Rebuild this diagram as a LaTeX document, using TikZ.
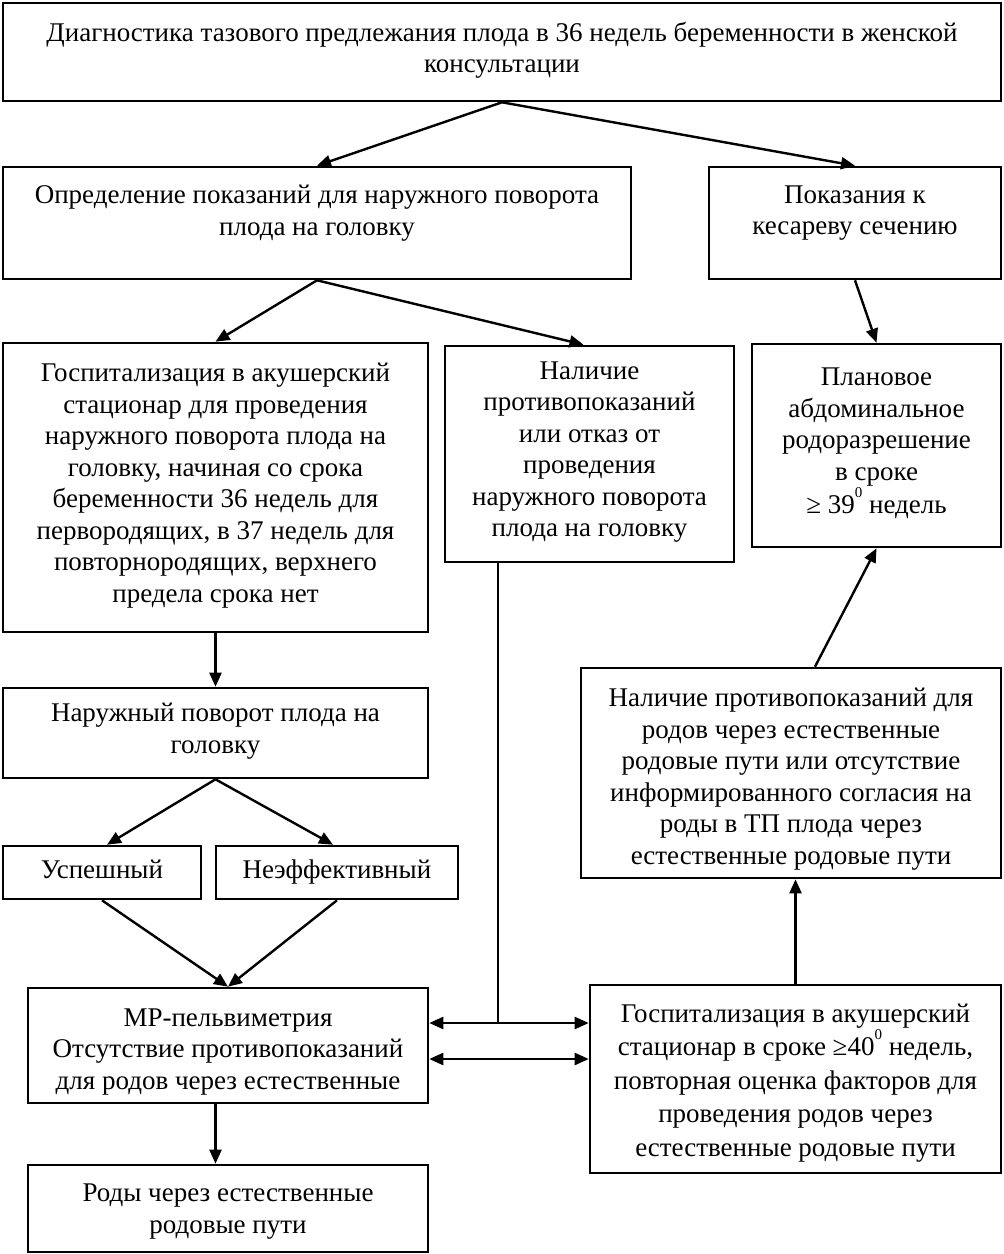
\documentclass[tikz,border=0pt]{standalone}
\usepackage{fontspec}
\setmainfont{Liberation Serif}
\usetikzlibrary{arrows.meta,calc}
\newcommand{\supz}{\raisebox{0.6em}{\fontsize{15}{15}\selectfont 0}}
\begin{document}
\begin{tikzpicture}[x=1pt,y=-1pt,
  box/.style={draw,line width=2.6pt,align=center,inner sep=0pt,
    font=\fontsize{27}{31.5}\selectfont,
    execute at begin node={\strut},execute at end node={\strut}},
  frame/.style={draw,line width=2.6pt,inner sep=0pt},
  txt/.style={align=center,inner sep=0pt,font=\fontsize{27}{31.5}\selectfont,
    execute at begin node={\strut},execute at end node={\strut}},
  arr/.style={line width=2.4pt,-{Triangle[length=14pt,width=12pt]}},
  darr/.style={line width=2.4pt,{Triangle[length=14pt,width=12pt]}-{Triangle[length=14pt,width=12pt]}},
  ln/.style={line width=2.4pt}]
\useasboundingbox (0,0) rectangle (1004,1254);
\node[box,minimum width=998pt,minimum height=98pt] (top) at (502,52)
  {Диагностика тазового предлежания плода в 36 недель беременности в женской\\консультации};
\node[frame,minimum width=628pt,minimum height=112pt] (b2) at (317,223) {};
\node[txt] (b2t) at ([yshift=8pt]b2.center)
  {Определение показаний для наружного поворота\\плода на головку};
\node[frame,minimum width=292pt,minimum height=112pt] (b3) at (855,223) {};
\node[txt] (b3t) at ([yshift=8pt]b3.center)
  {Показания к\\кесареву сечению};
\node[box,minimum width=425pt,minimum height=289pt] (b4) at (215.5,487.5)
  {Госпитализация в акушерский\\стационар для проведения\\наружного поворота плода на\\головку, начиная со срока\\беременности 36 недель для\\первородящих, в 37 недель для\\повторнородящих, верхнего\\предела срока нет};
\node[box,minimum width=289pt,minimum height=216pt] (b5) at (589.5,454)
  {Наличие\\противопоказаний\\или отказ от\\проведения\\наружного поворота\\плода на головку};
\node[box,minimum width=249pt,minimum height=203pt] (b6) at (876.5,445.5)
  {Плановое\\абдоминальное\\родоразрешение\\в сроке\\≥ 39\supz\ недель};
\node[box,minimum width=425pt,minimum height=90pt] (b7) at (215.5,733)
  {Наружный поворот плода на\\головку};
\node[box,minimum width=198pt,minimum height=53pt] (b8) at (102,872.5)
  {Успешный};
\node[box,minimum width=242pt,minimum height=53pt] (b9) at (337,872.5)
  {Неэффективный};
\node[frame,minimum width=400pt,minimum height=115pt] (b10) at (228,1045.5) {};
\node[txt] (b10t) at ([yshift=-8pt]b10.center)
  {МР-пельвиметрия\\Отсутствие противопоказаний\\для родов через естественные};
\node[frame,minimum width=400pt,minimum height=87pt] (b11) at (228,1208.5) {};
\node[txt] (b11t) at ([yshift=-5pt]b11.center)
  {Роды через естественные\\родовые пути};
\node[frame,minimum width=420pt,minimum height=210pt] (b12) at (791,773) {};
\node[txt] (b12t) at ([yshift=-8pt]b12.center)
  {Наличие противопоказаний для\\родов через естественные\\родовые пути или отсутствие\\информированного согласия на\\роды в ТП плода через\\естественные родовые пути};
\node[frame,minimum width=411pt,minimum height=188pt] (b13) at (795.5,1079) {};
\node[txt,font=\fontsize{27}{33.5}\selectfont] (b13t) at ([yshift=-6pt]b13.center)
  {Госпитализация в акушерский\\стационар в сроке ≥40\supz\ недель,\\повторная оценка факторов для\\проведения родов через\\естественные родовые пути};
\coordinate (j) at (498,1023);
\coordinate (k) at (0,1059);
\draw[arr] (top.south) -- (b2.north);
\draw[arr] (top.south) -- (b3.north);
\draw[arr] (b2.south) -- (b4.north);
\draw[arr] (b2.south) -- ([xshift=-6pt]b5.north);
\draw[arr] (b3.south) -- (b6.north);
\draw[arr] (b4.south) -- (b7.north);
\draw[arr] (b7.south) -- ([xshift=5pt]b8.north);
\draw[arr] (b7.south) -- ([xshift=-4pt]b9.north);
\draw[arr] (b8.south) -- (b10.north);
\draw[arr] (b9.south) -- (b10.north);
\draw[arr] (b10.south -| b7.south) -- (b11.north -| b7.south);
\draw[arr] (b13.north) -- (b13.north |- b12.south);
\draw[arr] ([xshift=24pt]b12.north) -- (b6.south);
\draw[ln] (j |- b5.south) -- (j);
\draw[darr] (b10.east |- j) -- (b13.west |- j);
\draw[darr] (b10.east |- k) -- (b13.west |- k);
\end{tikzpicture}
\end{document}
